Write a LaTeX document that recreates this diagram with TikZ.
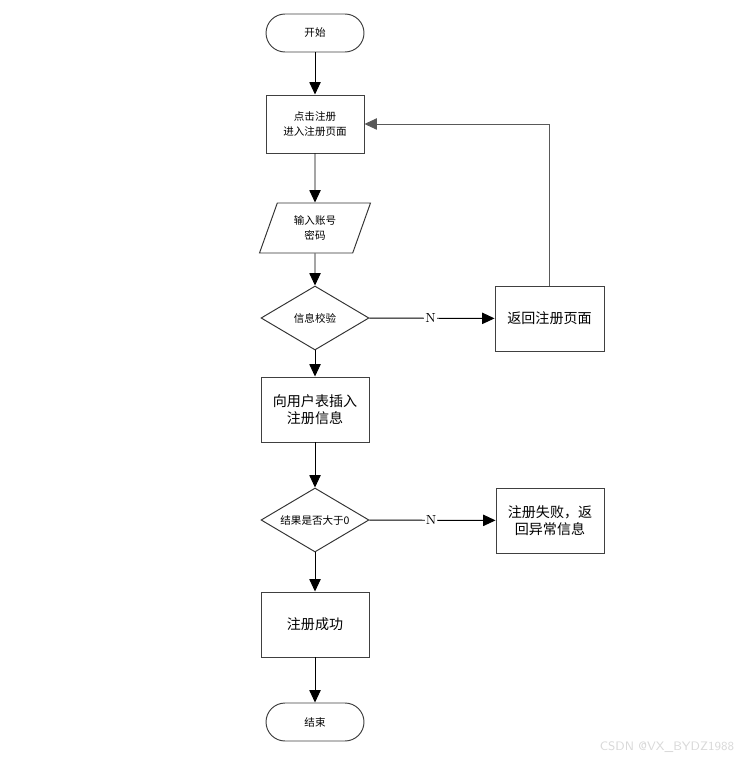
\documentclass[tikz,border=0pt]{standalone}
\usepackage{fontspec}
\newfontfamily\cjk{Noto Sans CJK SC}
\usetikzlibrary{shapes.geometric, arrows.meta}
\tikzstyle{arrow} = [line width=0.55pt,-{Triangle[length=7pt,width=6.4pt]}]
\tikzstyle{terminal} = [rectangle, draw=black!75, line width=0.55pt, rounded corners=0.38cm,
minimum width=1.96cm, minimum height=0.76cm, font=\cjk\fontsize{6}{8.5}\selectfont]
\tikzstyle{block} = [rectangle, draw=black!75, line width=0.55pt, align=center,
minimum width=2.16cm, minimum height=1.3cm, font=\cjk\fontsize{8}{10}\selectfont]
\tikzstyle{io} = [trapezium, trapezium left angle=68, trapezium right angle=112,
trapezium stretches=true, draw=black!80, line width=0.55pt, align=center, inner sep=0pt,
minimum width=2.22cm, minimum height=1cm, font=\cjk\fontsize{6}{8.5}\selectfont]
\tikzstyle{decision} = [diamond, aspect=1.7, draw=black!80, line width=0.55pt, inner sep=0pt,
minimum width=2.16cm, minimum height=1.28cm, font=\cjk\fontsize{6}{8.5}\selectfont]
\tikzstyle{edgelabel} = [fill=white, inner sep=0.6pt, font=\fontsize{7.5}{8}\selectfont]

\begin{document}
\begin{tikzpicture}[x=0.02cm, y=-0.02cm]
    \useasboundingbox (0,0) rectangle (749,760);

    % Nodes
    \node[terminal] (start) at (315, 33) {开始};
    \node[block, minimum width=1.96cm, minimum height=1.16cm,
          font=\cjk\fontsize{6}{8.5}\selectfont] (click) at (315, 124) {点击注册\\进入注册页面};
    \node[io] (input) at (315, 228) {输入账号\\密码};
    \node[decision] (check) at (315, 318) {信息校验};
    \node[block, minimum width=2.18cm] (back) at (549.5, 318.5) {返回注册页面};
    \node[block] (insert) at (315, 409.5) {向用户表插入\\注册信息};
    \node[decision] (result) at (315, 520) {结果是否大于0};
    \node[block] (fail) at (550, 520.5) {注册失败，返\\回异常信息};
    \node[block] (ok) at (315, 624.5) {注册成功};
    \node[terminal] (stop) at (315, 722) {结束};
    \node[text=black!15, font=\fontsize{7}{9}\selectfont\sffamily] (wm) at (667, 747) {CSDN @VX\_BYDZ1988};

    % Arrows
    \draw[arrow] (start) -- (click);
    \draw[arrow] (click) -- (input);
    \draw[arrow] (input) -- (check);
    \draw[arrow] (check) -- (insert);
    \draw[arrow] (insert) -- (result);
    \draw[arrow] (result) -- (ok);
    \draw[arrow] (ok) -- (stop);
    \draw[arrow] (check) -- (back) node[edgelabel, pos=0.49] {N};
    \draw[arrow] (result) -- (fail) node[edgelabel, pos=0.49] {N};
    \draw[arrow, draw=black!65] (back.north) |- (click.east);

\end{tikzpicture}
\end{document}
